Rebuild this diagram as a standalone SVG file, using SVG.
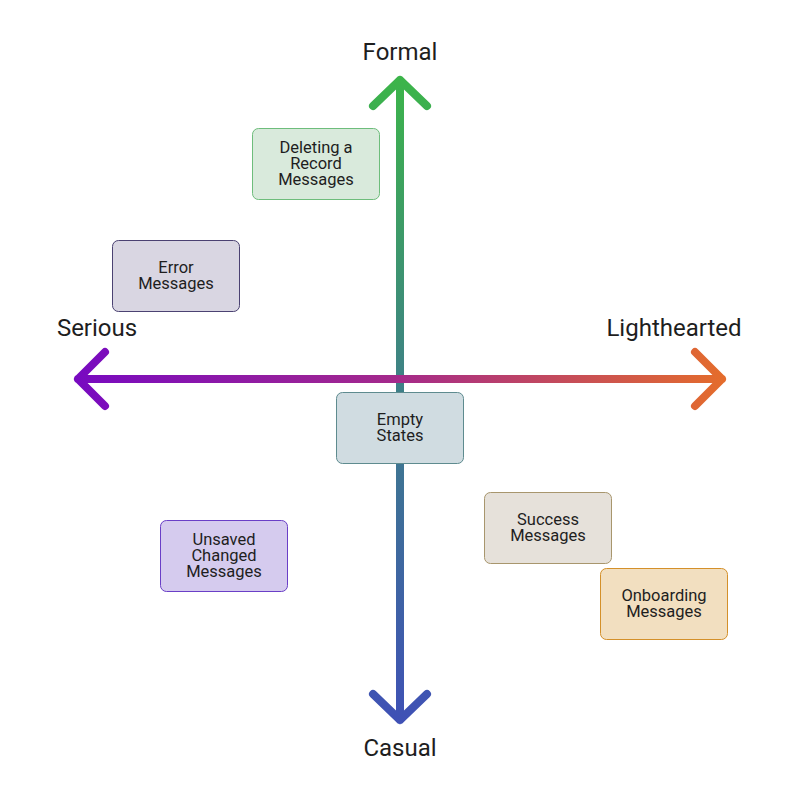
<svg xmlns="http://www.w3.org/2000/svg" width="800" height="800" viewBox="0 0 800 800">
<style>
.n{stroke-width:1}
.t{font-family:Roboto,"Liberation Sans",sans-serif;font-size:16.5px;fill:#1e1e1e;text-anchor:middle}
.a{font-family:Roboto,"Liberation Sans",sans-serif;font-size:24px;fill:#1e1e1e;text-anchor:middle}
.ax{fill:none;stroke-width:8;stroke-linecap:round;stroke-linejoin:round}
</style>
<defs>
<linearGradient id="gv" gradientUnits="userSpaceOnUse" x1="0" y1="80" x2="0" y2="720">
<stop offset="0" stop-color="#3cb44a"/>
<stop offset="0.5" stop-color="#3e7e8a"/>
<stop offset="1" stop-color="#3f51b5"/>
</linearGradient>
<linearGradient id="gh" gradientUnits="userSpaceOnUse" x1="78" y1="0" x2="722" y2="0">
<stop offset="0" stop-color="#780ac0"/>
<stop offset="0.5" stop-color="#a52a8a"/>
<stop offset="1" stop-color="#e46c2c"/>
</linearGradient>
</defs>
<rect width="800" height="800" fill="#fff"/>
<g id="connectors">
<path class="ax" stroke="url(#gv)" d="M400,80 V720 M373,106 L400,80 L427,106 M373,694 L400,720 L427,694"/>
<path class="ax" stroke="url(#gh)" d="M78,379 H722 M105,352 L78,379 L105,406 M695,352 L722,379 L695,406"/>
</g>
<g id="labels">
<text class="a" x="400" y="60">Formal</text>
<text class="a" x="400" y="756">Casual</text>
<text class="a" x="97" y="336">Serious</text>
<text class="a" x="674" y="336">Lighthearted</text>
</g>
<g id="deleting">
<rect class="n" x="252.5" y="128.5" width="127" height="71" rx="6" fill="#d9eadc" stroke="#6ebd7c"/>
<text class="t" x="316" y="153">Deleting a</text>
<text class="t" x="316" y="169">Record</text>
<text class="t" x="316" y="185">Messages</text>
</g>
<g id="error">
<rect class="n" x="112.5" y="240.5" width="127" height="71" rx="6" fill="#d9d6e2" stroke="#4b4272"/>
<text class="t" x="176" y="273">Error</text>
<text class="t" x="176" y="289">Messages</text>
</g>
<g id="empty">
<rect class="n" x="336.5" y="392.5" width="127" height="71" rx="6" fill="#d0dce1" stroke="#5e8b8f"/>
<text class="t" x="400" y="425">Empty</text>
<text class="t" x="400" y="441">States</text>
</g>
<g id="success">
<rect class="n" x="484.5" y="492.5" width="127" height="71" rx="6" fill="#e6e1da" stroke="#a8966d"/>
<text class="t" x="548" y="525">Success</text>
<text class="t" x="548" y="541">Messages</text>
</g>
<g id="onboarding">
<rect class="n" x="600.5" y="568.5" width="127" height="71" rx="6" fill="#f2dfc0" stroke="#d4902a"/>
<text class="t" x="664" y="601">Onboarding</text>
<text class="t" x="664" y="617">Messages</text>
</g>
<g id="unsaved">
<rect class="n" x="160.5" y="520.5" width="127" height="71" rx="6" fill="#d5cbee" stroke="#6a3fc7"/>
<text class="t" x="224" y="545">Unsaved</text>
<text class="t" x="224" y="561">Changed</text>
<text class="t" x="224" y="577">Messages</text>
</g>
</svg>
